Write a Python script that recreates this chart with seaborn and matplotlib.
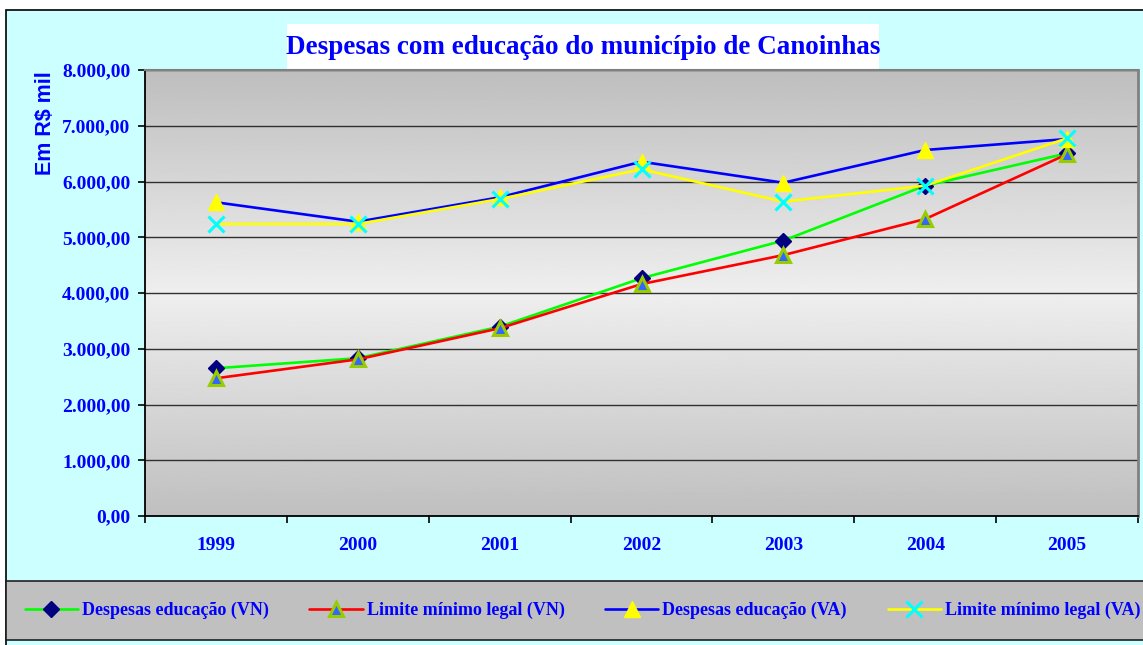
import numpy as np
import matplotlib
matplotlib.use("Agg")
import matplotlib.pyplot as plt
import seaborn as sns
from matplotlib.patches import Rectangle

years = ["1999", "2000", "2001", "2002", "2003", "2004", "2005"]
desp_vn = [2650, 2830, 3395, 4265, 4940, 5925, 6505]
lim_vn = [2470, 2810, 3367, 4160, 4680, 5327, 6490]
desp_va = [5627, 5279, 5716, 6355, 5978, 6565, 6762]
lim_va = [5238, 5238, 5686, 6219, 5638, 5925, 6775]
yticks = [0, 1000, 2000, 3000, 4000, 5000, 6000, 7000, 8000]
ytick_labels = ["0,00", "1.000,00", "2.000,00", "3.000,00", "4.000,00",
                "5.000,00", "6.000,00", "7.000,00", "8.000,00"]
title = "Despesas com educação do município de Canoinhas"
ylabel = "Em R$ mil"
names = ["Despesas educação (VN)", "Limite mínimo legal (VN)",
         "Despesas educação (VA)", "Limite mínimo legal (VA)"]

sns.set_theme(style="white")
plt.rcParams["font.family"] = ["Liberation Serif", "DejaVu Serif"]

W, H = 1143, 645
fig = plt.figure(figsize=(W / 100, H / 100), dpi=100)
fig.patch.set_facecolor("white")

BLUE = "#0000FF"

# outer cyan chart area
fig.patches.append(Rectangle((6 / W, -0.05), 1.1, 1 - 10 / H + 0.05,
                             transform=fig.transFigure, facecolor="#CCFFFF",
                             edgecolor="black", linewidth=1.2, zorder=-3))
# legend gray band
fig.patches.append(Rectangle((6 / W, 1 - 640 / H), 1.1, (640 - 581) / H,
                             transform=fig.transFigure, facecolor="#C0C0C0",
                             edgecolor="#202020", linewidth=1.2, zorder=-2))
# title white box
fig.patches.append(Rectangle((287 / W, 1 - 70 / H), (879 - 287) / W, 46 / H,
                             transform=fig.transFigure, facecolor="white",
                             edgecolor="none", zorder=-2))

ax = fig.add_axes([145 / W, 1 - 516 / H, (1138 - 145) / W, (516 - 70) / H])
ax.set_zorder(2)
ax.set_facecolor("none")

# gradient background
t = np.linspace(0, 1, 256)
g = np.interp(t, [0, 0.5, 1], [0.745, 0.935, 0.75])
ax.imshow(g[:, None], extent=(-0.5, 6.5, 0, 8000), aspect="auto",
          cmap="gray", vmin=0, vmax=1, origin="upper", zorder=0)

pos = np.arange(len(years))
styles = [
    dict(color="#00FF00", marker="D", markersize=8, markerfacecolor="#000080",
         markeredgecolor="#000080", markeredgewidth=1),
    dict(color="#FF0000", marker="^", markersize=10, markerfacecolor="#3366FF",
         markeredgecolor="#99CC00", markeredgewidth=2.2),
    dict(color="#0000FF", marker="^", markersize=11, markerfacecolor="#FFFF00",
         markeredgecolor="#FFFF00", markeredgewidth=1),
    dict(color="#FFFF00", marker="x", markersize=11, markerfacecolor="#00FFFF",
         markeredgecolor="#00FFFF", markeredgewidth=2.2),
]
for vals, name, st in zip([desp_vn, lim_vn, desp_va, lim_va], names, styles):
    sns.lineplot(x=pos, y=vals, ax=ax, label=name, linewidth=1.9,
                 legend=False, zorder=3, **st)

ax.set_xlim(-0.5, 6.5)
ax.set_ylim(0, 8000)
ax.set_yticks(yticks)
ax.set_yticklabels(ytick_labels)
ax.set_xticks(pos)
ax.set_xticklabels(years)
ax.set_xticks(np.arange(-0.5, 7, 1), minor=True)
ax.tick_params(axis="x", which="major", length=0, pad=15)
ax.tick_params(axis="x", which="minor", length=5, width=1.2, color="black",
               direction="out", bottom=True)
ax.tick_params(axis="y", length=5, width=1.2, color="black", direction="out",
               left=True, pad=5.5)
for lab in ax.get_xticklabels() + ax.get_yticklabels():
    lab.set_fontsize(14)
    lab.set_fontweight("bold")
    lab.set_color(BLUE)
    lab.set_family(["Liberation Serif", "DejaVu Serif"])

ax.grid(axis="y", color="#303030", linewidth=1.0, zorder=1)
for ln in ax.get_ygridlines():
    ln.set_zorder(1)
ax.spines["left"].set_color("black")
ax.spines["bottom"].set_color("black")
ax.spines["left"].set_linewidth(1.3)
ax.spines["bottom"].set_linewidth(1.3)
ax.spines["top"].set_color("#808080")
ax.spines["right"].set_color("#808080")
ax.spines["top"].set_linewidth(1.5)
ax.spines["right"].set_linewidth(2.0)
ax.set_xlabel("")
ax.set_ylabel(ylabel, fontsize=15.5, fontweight="bold", color=BLUE,
              family=["Liberation Sans", "DejaVu Sans"])
ax.yaxis.set_label_coords((56 - 145) / (1138 - 145),
                          1 - (123 - 70) / (516 - 70))

fig.text(583 / W, 1 - 47 / H, title, ha="center", va="center",
         fontsize=19.5, fontweight="bold", color=BLUE, zorder=3)

handles, labels = ax.get_legend_handles_labels()
leg = fig.legend(handles, labels, loc="center", ncol=4,
                 bbox_to_anchor=(582.5 / W, 1 - 610.5 / H), frameon=False,
                 handlelength=2.95, handletextpad=0.22, columnspacing=2.25,
                 borderpad=0, borderaxespad=0,
                 prop=dict(family="Liberation Serif", weight="bold", size=13))
for txt in leg.get_texts():
    txt.set_color(BLUE)

fig.savefig("out.png", dpi=100)
